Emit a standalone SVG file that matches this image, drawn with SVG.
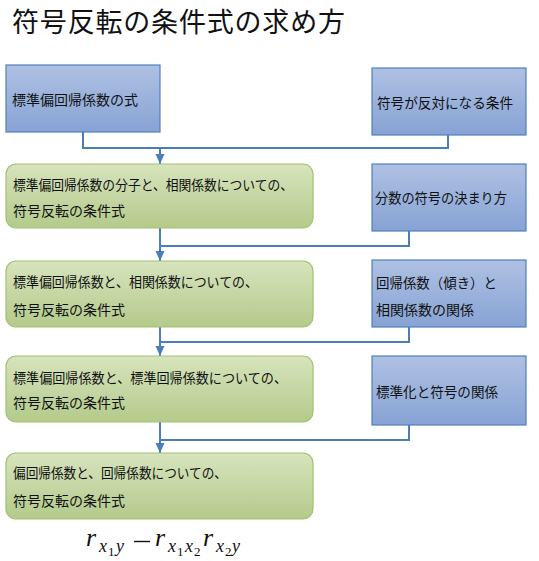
<svg xmlns="http://www.w3.org/2000/svg" width="539" height="561" viewBox="0 0 539 561">
<defs>
<linearGradient id="gb" x1="0" y1="0" x2="0" y2="1"><stop offset="0" stop-color="#aec1e3"/><stop offset="1" stop-color="#87a3d4"/></linearGradient>
<linearGradient id="gg" x1="0" y1="0" x2="0" y2="1"><stop offset="0" stop-color="#d7e4bd"/><stop offset="1" stop-color="#b4ca8b"/></linearGradient>
<marker id="ah" markerUnits="userSpaceOnUse" markerWidth="10" markerHeight="10" viewBox="0 0 10 10" refX="10" refY="5" orient="auto"><path d="M0,0.5 L10,5 L0,9.5 Z" fill="#4a7ebb"/></marker>
<style>
.b{fill:url(#gb);stroke:#4f81bd;stroke-width:1.2}
.g{fill:url(#gg);stroke:#a3c06c;stroke-width:1.2}
.t{font-family:"Noto Sans CJK JP","Noto Sans CJK SC",sans-serif;font-size:14px;fill:#111}
.c{fill:none;stroke:#4a7ebb;stroke-width:2}
.m{font-family:"Liberation Serif",serif;font-style:italic;fill:#111}
</style>
</defs>
<rect width="539" height="561" fill="#fff"/>
<text x="12" y="32" font-family="Noto Sans CJK JP, Noto Sans CJK SC, sans-serif" font-size="27" fill="#111" textLength="333" lengthAdjust="spacing">符号反転の条件式の求め方</text>

<g id="connectors">
<path class="c" d="M83 132 V148 H448 V135"/>
<path class="c" d="M160 148 V164" marker-end="url(#ah)"/>
<path class="c" d="M160 228 V246 H409 V231"/>
<path class="c" d="M160 246 V261" marker-end="url(#ah)"/>
<path class="c" d="M160 327 V342 H409 V327"/>
<path class="c" d="M160 342 V356" marker-end="url(#ah)"/>
<path class="c" d="M160 422 V440 H409 V425"/>
<path class="c" d="M160 440 V453" marker-end="url(#ah)"/>
</g>

<g id="n1"><rect class="b" x="6" y="65" width="154" height="67"/><text class="t" x="12" y="105">標準偏回帰係数の式</text></g>
<g id="n2"><rect class="b" x="372" y="68" width="154" height="67"/><text class="t" x="377" y="108" textLength="136" lengthAdjust="spacingAndGlyphs">符号が反対になる条件</text></g>
<g id="n3"><rect class="g" x="6" y="164" width="307" height="64" rx="10"/><text class="t" x="13" y="190" textLength="280" lengthAdjust="spacingAndGlyphs">標準偏回帰係数の分子と、相関係数についての、</text><text class="t" x="13" y="216">符号反転の条件式</text></g>
<g id="n4"><rect class="b" x="372" y="164" width="154" height="67"/><text class="t" x="375" y="203" textLength="132" lengthAdjust="spacingAndGlyphs">分数の符号の決まり方</text></g>
<g id="n5"><rect class="g" x="6" y="261" width="307" height="66" rx="10"/><text class="t" x="13" y="287" textLength="245" lengthAdjust="spacingAndGlyphs">標準偏回帰係数と、相関係数についての、</text><text class="t" x="13" y="315">符号反転の条件式</text></g>
<g id="n6"><rect class="b" x="372" y="260" width="154" height="67"/><text class="t" x="376" y="288" textLength="121" lengthAdjust="spacingAndGlyphs">回帰係数（傾き）と</text><text class="t" x="376" y="315">相関係数の関係</text></g>
<g id="n7"><rect class="g" x="6" y="356" width="307" height="66" rx="10"/><text class="t" x="13" y="383" textLength="274" lengthAdjust="spacingAndGlyphs">標準偏回帰係数と、標準回帰係数についての、</text><text class="t" x="13" y="408">符号反転の条件式</text></g>
<g id="n8"><rect class="b" x="372" y="356" width="154" height="69"/><text class="t" x="376" y="397" textLength="122" lengthAdjust="spacingAndGlyphs">標準化と符号の関係</text></g>
<g id="n9"><rect class="g" x="6" y="453" width="307" height="66" rx="10"/><text class="t" x="13" y="478" textLength="214" lengthAdjust="spacingAndGlyphs">偏回帰係数と、回帰係数についての、</text><text class="t" x="13" y="506">符号反転の条件式</text></g>

<g id="formula">
<text class="m" x="86" y="546" font-size="26">r</text>
<text class="m" x="99" y="552" font-size="18">x</text>
<text x="108" y="556" font-family="Liberation Serif, serif" font-size="13" fill="#111">1</text>
<text class="m" x="116" y="552" font-size="18">y</text>
<path d="M134 541.5 H150" stroke="#111" stroke-width="1.4"/>
<text class="m" x="155" y="546" font-size="26">r</text>
<text class="m" x="168" y="552" font-size="18">x</text>
<text x="177" y="556" font-family="Liberation Serif, serif" font-size="13" fill="#111">1</text>
<text class="m" x="185" y="552" font-size="18">x</text>
<text x="194" y="556" font-family="Liberation Serif, serif" font-size="13" fill="#111">2</text>
<text class="m" x="203" y="546" font-size="26">r</text>
<text class="m" x="216" y="552" font-size="18">x</text>
<text x="225" y="556" font-family="Liberation Serif, serif" font-size="13" fill="#111">2</text>
<text class="m" x="232" y="552" font-size="18">y</text>
</g>
</svg>
